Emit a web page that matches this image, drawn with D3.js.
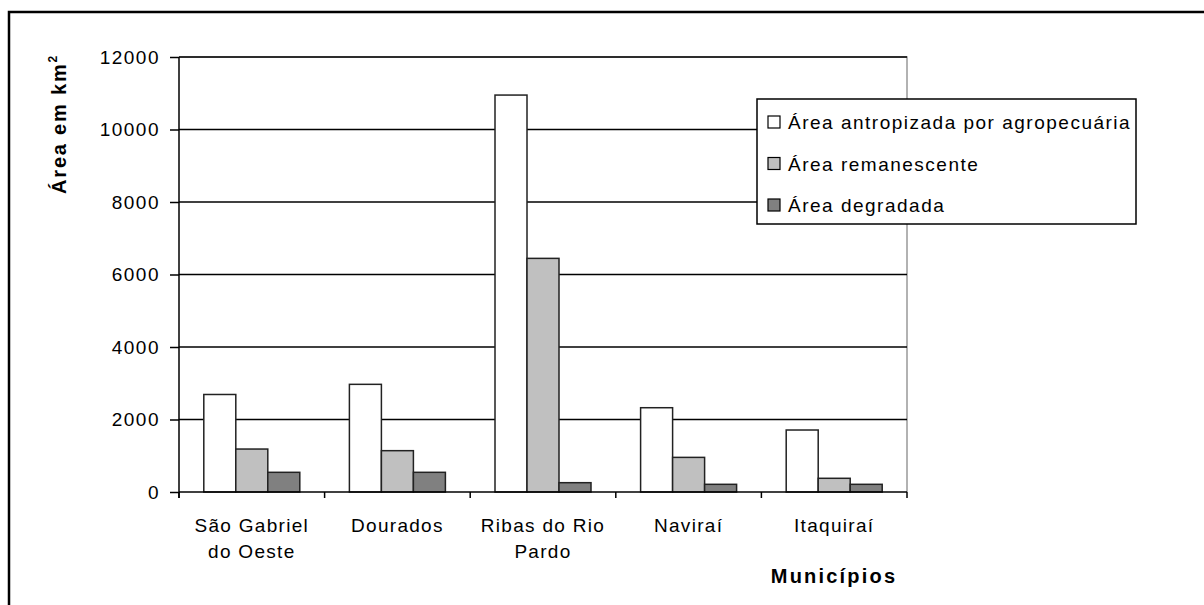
<!DOCTYPE html>
<html><head><meta charset="utf-8">
<script src="https://cdn.jsdelivr.net/npm/d3@7"></script>
<style>
html,body{margin:0;padding:0;background:#fff;}
text{font-family:"Liberation Sans",Arial,sans-serif;fill:#000;}
</style></head>
<body><svg id="c" width="1204" height="605"></svg>
<script>
const categories = [["São Gabriel","do Oeste"],["Dourados"],["Ribas do Rio","Pardo"],["Naviraí"],["Itaquiraí"]];
const seriesNames = ["Área antropizada por agropecuária","Área remanescente","Área degradada"];
const seriesColors = ["#ffffff","#c0c0c0","#808080"];
const antropizada = [2690, 2970, 10950, 2325, 1710];
const remanescente = [1185, 1140, 6445, 955, 378];
const degradada = [543, 543, 257, 212, 212];
const yTicks = [0,2000,4000,6000,8000,10000,12000];

const series = [antropizada, remanescente, degradada];
const svg = d3.select("#c");
const L=179, R=907, T=57, B=492;

// outer border (left + top only visible)
svg.append("rect").attr("x",9).attr("y",12).attr("width",1300).attr("height",700)
  .attr("fill","none").attr("stroke","#000").attr("stroke-width",2.5);

const x = d3.scaleBand().domain(d3.range(categories.length)).range([L,R]).paddingInner(0).paddingOuter(0);
const y = d3.scaleLinear().domain([0,12000]).range([B,T]);

// plot area border (gray top/right)
svg.append("path").attr("d",`M${L},${T}H${R}V${B}`).attr("fill","none").attr("stroke","#999").attr("stroke-width",1.5);

// gridlines
svg.append("g").selectAll("line").data(yTicks.filter(d=>d>0)).join("line")
  .attr("x1",L).attr("x2",R).attr("y1",d=>y(d)).attr("y2",d=>y(d))
  .attr("stroke","#000").attr("stroke-width",1.5);

// bars
const bw = 32;
const groupW = bw*series.length;
const gb = svg.append("g");
series.forEach((s,si)=>{
  gb.selectAll(null).data(s).join("rect")
    .attr("x",(d,i)=>x(i)+(x.bandwidth()-groupW)/2 + si*bw)
    .attr("y",d=>y(d)).attr("width",bw).attr("height",d=>y(0)-y(d))
    .attr("fill",seriesColors[si]).attr("stroke","#222").attr("stroke-width",1.5);
});

// y axis
const yAxis = d3.axisLeft(y).tickValues(yTicks).tickSize(9).tickPadding(10).tickFormat(d3.format("d"));
const ga = svg.append("g").attr("transform",`translate(${L},0)`).call(yAxis);
ga.select(".domain").attr("stroke","#000").attr("stroke-width",1.5).attr("d",`M0,${T}V${B+6}`);
ga.selectAll(".tick line").attr("stroke","#000").attr("stroke-width",1.5);
ga.selectAll(".tick text").attr("font-size",19).attr("font-family","Liberation Sans, Arial").attr("fill","#000").attr("letter-spacing",1.5);

// x axis
const xAxis = d3.axisBottom(x).tickSize(0).tickFormat("");
const gx = svg.append("g").attr("transform",`translate(0,${B})`).call(xAxis);
gx.select(".domain").attr("stroke","#000").attr("stroke-width",1.5).attr("d",`M${L},0H${R}`);
gx.selectAll(".tick").remove();
gx.selectAll("line.sep").data(d3.range(categories.length+1)).join("line").attr("class","sep")
  .attr("x1",i=>L+i*x.bandwidth()).attr("x2",i=>L+i*x.bandwidth()).attr("y1",0).attr("y2",6)
  .attr("stroke","#000").attr("stroke-width",1.5);
const xl = svg.append("g");
categories.forEach((lines,i)=>{
  const cx = x(i)+x.bandwidth()/2;
  const t = xl.append("text").attr("text-anchor","middle").attr("font-size",19).attr("letter-spacing",1.3)
    .attr("x",cx).attr("y",532);
  lines.forEach((ln,j)=>t.append("tspan").attr("x",cx).attr("dy",j?26:0).text(ln));
});

// axis titles
svg.append("text").attr("transform","translate(66,124) rotate(-90)").attr("text-anchor","middle")
  .attr("font-size",20).attr("font-weight","bold").attr("letter-spacing",1.8)
  .html('Área em km<tspan dy="-9" font-size="12">2</tspan>');
svg.append("text").attr("x",834).attr("y",583).attr("text-anchor","middle").attr("font-size",20)
  .attr("font-weight","bold").attr("letter-spacing",2.2).text("Municípios");

// legend
const lg = svg.append("g");
lg.append("rect").attr("x",757).attr("y",99).attr("width",379).attr("height",125)
  .attr("fill","#fff").attr("stroke","#000").attr("stroke-width",1.5);
seriesNames.forEach((n,i)=>{
  const cy = 122 + i*41.5;
  lg.append("rect").attr("x",768).attr("y",cy-6).attr("width",12).attr("height",12)
    .attr("fill",seriesColors[i]).attr("stroke","#000").attr("stroke-width",1.2);
  lg.append("text").attr("x",788).attr("y",cy+7).attr("font-size",19).attr("letter-spacing",1.5).text(n);
});
</script></body></html>
